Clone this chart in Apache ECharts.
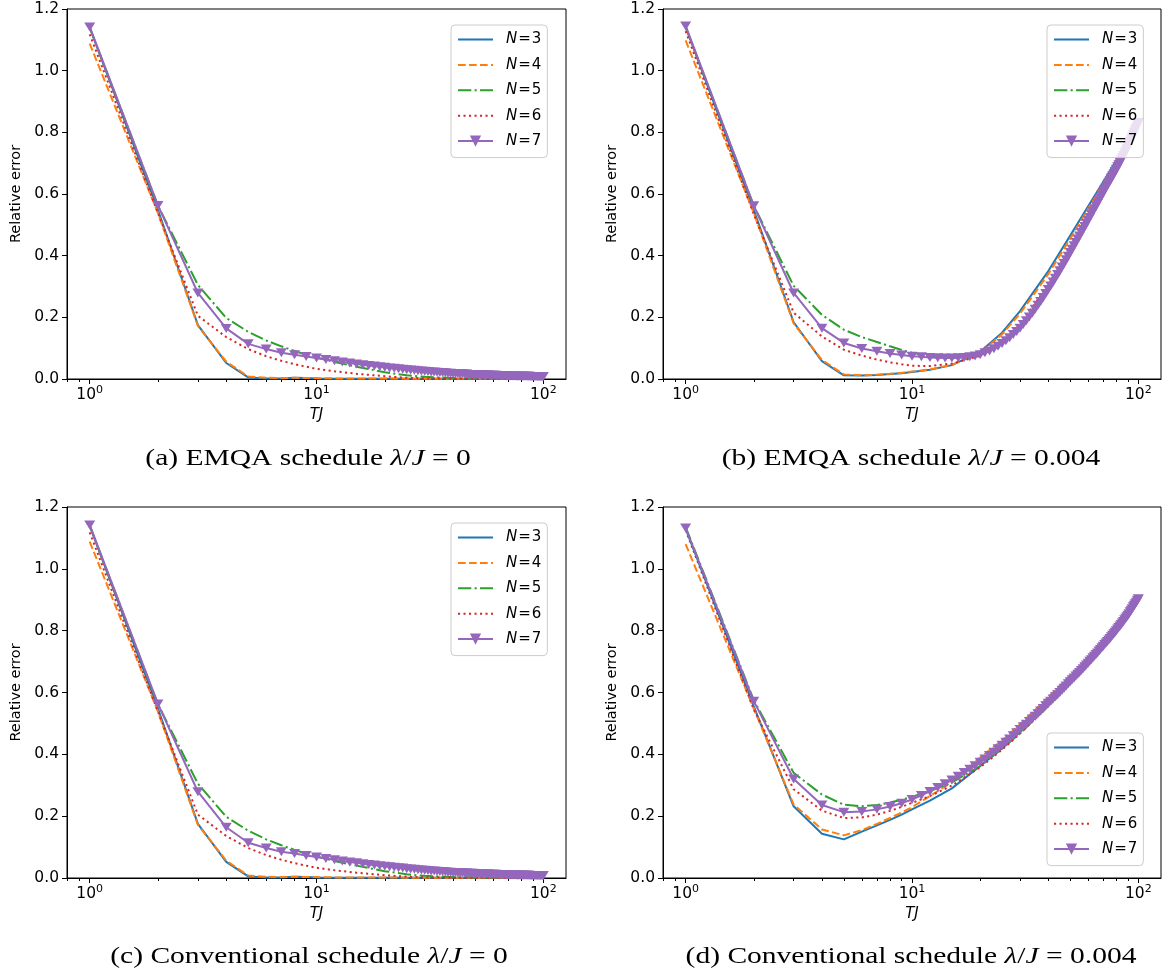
<!DOCTYPE html>
<html><head><meta charset="utf-8">
<script src="https://cdn.jsdelivr.net/npm/echarts@6/dist/echarts.min.js"></script>
<style>html,body{margin:0;padding:0;background:#fff}#c{width:1165px;height:978px}</style>
</head><body><div id="c"></div>
<script>
// ---------------- data ----------------
const SERIES_NAMES = ['N=3', 'N=4', 'N=5', 'N=6', 'N=7'];
const X_TICKS = [1, 10, 100];
const X_MINOR_TICKS = [0.8, 0.9, 2, 3, 4, 5, 6, 7, 8, 9, 20, 30, 40, 50, 60, 70, 80, 90];
const Y_TICKS_STEP = 0.2;
const CAPTIONS = [
  ['(a) EMQA schedule ', '0'],
  ['(b) EMQA schedule ', '0.004'],
  ['(c) Conventional schedule ', '0'],
  ['(d) Conventional schedule ', '0.004']
];
// TJ sample points used for the N=3..6 curves
const TJ_SPARSE = [1, 2, 3, 4, 5, 6, 7, 8, 9, 10, 12, 15, 20, 25, 30, 40, 50, 60, 70, 80, 90, 100];
// TJ sample points used for the N=7 curve (marker at every integer)
const TJ_FULL = [1,2,3,4,5,6,7,8,9,10,11,12,13,14,15,16,17,18,19,20,21,22,23,24,25,26,27,28,29,30,
  31,32,33,34,35,36,37,38,39,40,41,42,43,44,45,46,47,48,49,50,51,52,53,54,55,56,57,58,59,60,
  61,62,63,64,65,66,67,68,69,70,71,72,73,74,75,76,77,78,79,80,81,82,83,84,85,86,87,88,89,90,
  91,92,93,94,95,96,97,98,99,100];

// (a) EMQA schedule, lambda/J = 0
const A_N3 = [1.140,0.548,0.175,0.052,0.005,0.002,0.002,0.004,0.003,0.002,0.001,0.001,0.001,0.001,0.001,0.001,0.001,0.001,0.001,0.001,0.001,0.001];
const A_N4 = [1.088,0.538,0.172,0.056,0.008,0.004,0.003,0.004,0.003,0.003,0.002,0.002,0.002,0.001,0.001,0.001,0.001,0.001,0.001,0.001,0.001,0.001];
const A_N5 = [1.140,0.562,0.305,0.198,0.153,0.125,0.106,0.091,0.079,0.070,0.055,0.040,0.022,0.012,0.007,0.003,0.002,0.001,0.001,0.001,0.001,0.001];
const A_N6 = [1.118,0.538,0.205,0.136,0.097,0.074,0.059,0.048,0.040,0.033,0.025,0.017,0.009,0.004,0.002,0.001,0.001,0.001,0.001,0.001,0.001,0.001];
const A_N7 = [1.142,0.563,0.279,0.164,0.114,0.097,0.085,0.079,0.073,0.068,
  0.063,0.059,0.055,0.052,0.049,0.046,0.044,0.042,0.040,0.038,
  0.036,0.035,0.033,0.032,0.030,0.029,0.028,0.027,0.026,0.025,
  0.024,0.023,0.023,0.022,0.021,0.021,0.020,0.019,0.019,0.018,
  0.018,0.017,0.017,0.017,0.016,0.016,0.015,0.015,0.015,0.014,
  0.014,0.014,0.014,0.013,0.013,0.013,0.013,0.012,0.012,0.012,
  0.012,0.012,0.011,0.011,0.011,0.011,0.011,0.011,0.010,0.010,
  0.010,0.010,0.010,0.010,0.010,0.010,0.009,0.009,0.009,0.009,
  0.009,0.009,0.009,0.009,0.009,0.009,0.009,0.008,0.008,0.008,
  0.008,0.008,0.008,0.008,0.008,0.008,0.008,0.008,0.008,0.008];

// (b) EMQA schedule, lambda/J = 0.004
const B_N3 = [1.142,0.548,0.184,0.058,0.012,0.011,0.013,0.016,0.019,0.023,0.030,0.045,0.088,0.150,0.220,0.350,0.465,0.560,0.640,0.710,0.775,0.835];
const B_N4 = [1.098,0.538,0.180,0.062,0.015,0.012,0.014,0.017,0.020,0.024,0.031,0.046,0.085,0.145,0.212,0.340,0.455,0.552,0.633,0.705,0.772,0.835];
const B_N5 = [1.142,0.562,0.302,0.208,0.160,0.136,0.120,0.106,0.094,0.085,0.075,0.068,0.079,0.117,0.170,0.295,0.415,0.520,0.610,0.683,0.757,0.833];
const B_N6 = [1.128,0.535,0.215,0.138,0.095,0.076,0.063,0.054,0.048,0.043,0.042,0.050,0.075,0.118,0.175,0.305,0.425,0.528,0.615,0.688,0.760,0.834];
const B_N7 = [1.145,0.562,0.279,0.165,0.117,0.099,0.090,0.083,0.078,0.074,
  0.072,0.070,0.069,0.068,0.068,0.069,0.070,0.072,0.075,0.079,
  0.085,0.091,0.098,0.106,0.115,0.124,0.134,0.144,0.154,0.165,
  0.177,0.189,0.201,0.213,0.226,0.239,0.251,0.264,0.277,0.290,
  0.302,0.315,0.327,0.339,0.351,0.363,0.375,0.387,0.398,0.410,
  0.421,0.432,0.443,0.454,0.464,0.475,0.485,0.495,0.505,0.515,
  0.524,0.534,0.543,0.552,0.561,0.570,0.579,0.588,0.596,0.605,
  0.613,0.621,0.628,0.636,0.643,0.651,0.658,0.665,0.673,0.680,
  0.688,0.695,0.703,0.710,0.718,0.725,0.733,0.740,0.748,0.755,
  0.763,0.771,0.778,0.786,0.794,0.801,0.809,0.816,0.824,0.832];

// (c) Conventional schedule, lambda/J = 0
const C_N3 = [1.140,0.548,0.175,0.052,0.005,0.002,0.002,0.004,0.003,0.002,0.001,0.001,0.001,0.001,0.001,0.001,0.001,0.001,0.001,0.001,0.001,0.001];
const C_N4 = [1.088,0.538,0.172,0.056,0.008,0.004,0.003,0.004,0.003,0.003,0.002,0.002,0.002,0.001,0.001,0.001,0.001,0.001,0.001,0.001,0.001,0.001];
const C_N5 = [1.140,0.562,0.305,0.198,0.153,0.125,0.106,0.091,0.079,0.070,0.055,0.040,0.022,0.012,0.007,0.003,0.002,0.001,0.001,0.001,0.001,0.001];
const C_N6 = [1.118,0.538,0.205,0.136,0.097,0.074,0.059,0.048,0.040,0.033,0.025,0.017,0.009,0.004,0.002,0.001,0.001,0.001,0.001,0.001,0.001,0.001];
const C_N7 = [1.142,0.563,0.279,0.164,0.114,0.097,0.085,0.079,0.073,0.068,
  0.063,0.059,0.055,0.052,0.049,0.046,0.044,0.042,0.040,0.038,
  0.036,0.035,0.033,0.032,0.030,0.029,0.028,0.027,0.026,0.025,
  0.024,0.023,0.023,0.022,0.021,0.021,0.020,0.019,0.019,0.018,
  0.018,0.017,0.017,0.017,0.016,0.016,0.015,0.015,0.015,0.014,
  0.014,0.014,0.014,0.013,0.013,0.013,0.013,0.012,0.012,0.012,
  0.012,0.012,0.011,0.011,0.011,0.011,0.011,0.011,0.010,0.010,
  0.010,0.010,0.010,0.010,0.010,0.010,0.009,0.009,0.009,0.009,
  0.009,0.009,0.009,0.009,0.009,0.009,0.009,0.008,0.008,0.008,
  0.008,0.008,0.008,0.008,0.008,0.008,0.008,0.008,0.008,0.008];

// (d) Conventional schedule, lambda/J = 0.004
const D_N3 = [1.130,0.555,0.232,0.143,0.125,0.150,0.170,0.188,0.205,0.222,0.250,0.290,0.362,0.420,0.472,0.558,0.628,0.690,0.745,0.795,0.847,0.900];
const D_N4 = [1.080,0.548,0.238,0.157,0.138,0.155,0.175,0.194,0.212,0.229,0.265,0.310,0.390,0.445,0.497,0.585,0.655,0.713,0.765,0.813,0.860,0.905];
const D_N5 = [1.135,0.575,0.340,0.270,0.237,0.232,0.236,0.244,0.253,0.263,0.281,0.309,0.362,0.418,0.468,0.556,0.628,0.690,0.745,0.796,0.848,0.901];
const D_N6 = [1.125,0.545,0.287,0.218,0.194,0.196,0.205,0.217,0.230,0.243,0.265,0.299,0.358,0.415,0.467,0.556,0.629,0.691,0.746,0.797,0.848,0.901];
const D_N7 = [1.132,0.572,0.320,0.236,0.213,0.215,0.222,0.231,0.242,0.254,
  0.267,0.280,0.293,0.305,0.317,0.329,0.341,0.352,0.363,0.374,
  0.385,0.396,0.407,0.418,0.429,0.439,0.450,0.460,0.470,0.480,
  0.489,0.497,0.506,0.514,0.523,0.531,0.540,0.548,0.557,0.565,
  0.572,0.579,0.586,0.593,0.600,0.607,0.614,0.621,0.628,0.635,
  0.641,0.647,0.653,0.659,0.665,0.671,0.677,0.683,0.689,0.695,
  0.701,0.706,0.712,0.717,0.723,0.728,0.734,0.739,0.745,0.750,
  0.755,0.760,0.765,0.770,0.775,0.780,0.785,0.790,0.795,0.800,
  0.805,0.810,0.815,0.820,0.825,0.830,0.835,0.840,0.845,0.850,
  0.855,0.861,0.866,0.871,0.877,0.882,0.887,0.892,0.898,0.903];

const PANEL_DATA = [
  [A_N3, A_N4, A_N5, A_N6, A_N7],
  [B_N3, B_N4, B_N5, B_N6, B_N7],
  [C_N3, C_N4, C_N5, C_N6, C_N7],
  [D_N3, D_N4, D_N5, D_N6, D_N7]
];

// ---------------- styling ----------------
const COLORS = ['#1f77b4', '#ff7f0e', '#2ca02c', '#d62728', '#9467bd'];
const DASHES = ['solid', [7.7, 3.3], [13.3, 3.3, 2.1, 3.3], [2.1, 3.4], 'solid'];
const FONT = 'DejaVu Sans';
const SERIF = 'Liberation Serif';
const TICK_FS = 15.5;
const XMIN = Math.pow(10, -0.1), XMAX = Math.pow(10, 2.1);
const GRIDS = [
  { left: 67, top: 9, width: 499, height: 370 },
  { left: 663, top: 9, width: 498, height: 370 },
  { left: 67, top: 507, width: 499, height: 371 },
  { left: 663, top: 507, width: 498, height: 371 }
];
const LEGEND_POS = [
  { left: 451, top: 25 }, { left: 1047, top: 25 },
  { left: 451, top: 523 }, { left: 1047, top: 733 }
];
const CAPTION_POS = [[308, 459], [911, 459], [309, 957], [911, 957]];

const xAxes = [], yAxes = [], series = [], legends = [], graphics = [];
GRIDS.forEach((g, i) => {
  xAxes.push({
    type: 'log', logBase: 10, gridIndex: i, min: XMIN, max: XMAX,
    axisLine: { show: true, onZero: false, lineStyle: { color: '#000', width: 1 } },
    axisTick: { show: true, customValues: X_TICKS, length: 5, lineStyle: { color: '#000', width: 1 } },
    axisLabel: {
      customValues: X_TICKS, color: '#000', fontFamily: FONT, fontSize: TICK_FS, margin: 6,
      formatter: v => '{n|10}{s|' + Math.round(Math.log10(v)) + '}',
      rich: {
        n: { fontFamily: FONT, fontSize: TICK_FS, color: '#000', lineHeight: 19 },
        s: { fontFamily: FONT, fontSize: 11, color: '#000', lineHeight: 12, verticalAlign: 'top' }
      }
    },
    splitLine: { show: false }, minorTick: { show: false },
    name: 'TJ', nameLocation: 'middle', nameGap: 29,
    nameTextStyle: { fontStyle: 'italic', fontFamily: FONT, fontSize: 15, color: '#000' }
  });
  xAxes.push({
    type: 'log', logBase: 10, gridIndex: i, min: XMIN, max: XMAX, position: 'bottom',
    axisLine: { show: false },
    axisTick: { show: true, customValues: X_MINOR_TICKS, length: 3, lineStyle: { color: '#000', width: 1 } },
    axisLabel: { show: false }, splitLine: { show: false }
  });
  yAxes.push({
    type: 'value', gridIndex: i, min: 0, max: 1.2, interval: Y_TICKS_STEP,
    axisLine: { show: true, lineStyle: { color: '#000', width: 1 } },
    axisTick: { show: true, length: 5, lineStyle: { color: '#000', width: 1 } },
    axisLabel: { color: '#000', fontFamily: FONT, fontSize: TICK_FS, margin: 8, formatter: v => v.toFixed(1) },
    splitLine: { show: false },
    name: 'Relative error', nameLocation: 'middle', nameGap: 43,
    nameTextStyle: { fontFamily: FONT, fontSize: 14.5, color: '#000' }
  });
  PANEL_DATA[i].forEach((vals, j) => {
    const xs = j === 4 ? TJ_FULL : TJ_SPARSE;
    const s = {
      type: 'line', name: SERIES_NAMES[j], xAxisIndex: 2 * i, yAxisIndex: i,
      data: xs.map((x, k) => [x, vals[k]]),
      color: COLORS[j],
      lineStyle: { color: COLORS[j], width: 2, type: DASHES[j] },
      itemStyle: { color: COLORS[j] },
      z: 2, animation: false, emphasis: { disabled: true }, silent: true
    };
    if (j === 4) {
      s.symbol = 'triangle'; s.symbolRotate = 180; s.symbolSize = [11, 9]; s.showSymbol = true;
    } else {
      s.symbol = 'none'; s.showSymbol = false;
    }
    series.push(s);
  });
  legends.push({
    z: 20,
    left: LEGEND_POS[i].left, top: LEGEND_POS[i].top, orient: 'vertical',
    data: SERIES_NAMES.map((n, j) => j === 4 ? { name: n } : { name: n, itemStyle: { opacity: 0 } }),
    itemWidth: 35, itemHeight: 14, itemGap: 10.4, padding: [7, 6, 9, 6],
    borderColor: '#cccccc', borderWidth: 1, borderRadius: 4,
    backgroundColor: 'rgba(255,255,255,0.8)', selectedMode: false,
    formatter: n => '{i|N}{e|=}{t|' + n.slice(2) + '}',
    textStyle: {
      lineHeight: 14,
      rich: {
        i: { fontFamily: FONT, fontStyle: 'italic', fontSize: 15, color: '#000', padding: [0, 0, 0, 8], lineHeight: 14 },
        e: { fontFamily: FONT, fontSize: 15, color: '#000', lineHeight: 14, padding: [0, 1, 0, 1] },
        t: { fontFamily: FONT, fontSize: 15, color: '#000', lineHeight: 14 }
      }
    }
  });
  const cap = CAPTIONS[i];
  graphics.push({
    type: 'text', x: CAPTION_POS[i][0], y: CAPTION_POS[i][1], scaleX: 1.23, scaleY: 1, silent: true,
    style: {
      text: '{r|' + cap[0] + '}{i|\u03bb}{r|/}{i|J}{r| = ' + cap[1] + '}',
      align: 'center', verticalAlign: 'middle',
      rich: {
        r: { fontFamily: SERIF, fontSize: 24, fill: '#000' },
        i: { fontFamily: SERIF, fontStyle: 'italic', fontSize: 24, fill: '#000' }
      }
    }
  });
});

const chart = echarts.init(document.getElementById('c'), null, { renderer: 'canvas' });
chart.setOption({
  animation: false,
  backgroundColor: '#fff',
  grid: GRIDS.map(g => Object.assign({ show: true, borderColor: '#000', borderWidth: 1, backgroundColor: 'transparent' }, g)),
  xAxis: xAxes, yAxis: yAxes, series: series, legend: legends, graphic: graphics
});
</script></body></html>
